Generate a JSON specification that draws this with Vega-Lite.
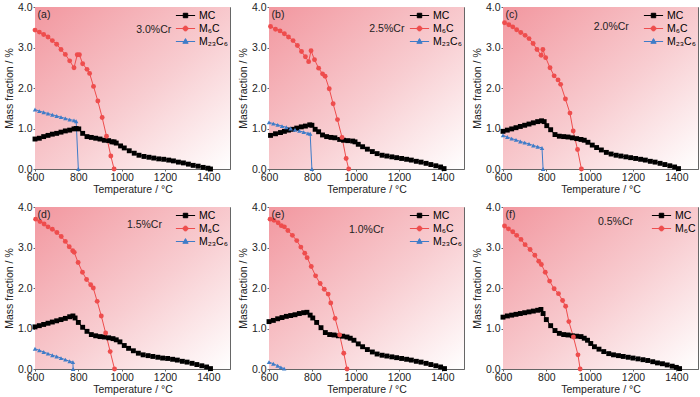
{
  "$schema": "https://vega.github.io/schema/vega-lite/v6.json",
  "padding": {"left": 3, "top": 1, "right": 2, "bottom": 0},
  "background": "white",
  "config": {
    "font": "Liberation Sans",
    "view": {"stroke": "#666666", "strokeWidth": 1},
    "axis": {"labelFontSize": 10.5, "titleFontSize": 10.5, "titleFontWeight": "normal", "labelColor": "#222", "titleColor": "#222", "domainColor": "#666", "tickColor": "#666", "tickSize": 2, "labelPadding": 1, "grid": false, "labelFlush": false},
    "axisY": {"titlePadding": 3},
    "axisX": {"titlePadding": 2},
    "legend": {"orient": "top-right", "offset": 1, "labelFontSize": 10.5, "symbolSize": 144, "rowPadding": 1, "labelOffset": 7, "padding": 1, "symbolStrokeWidth": 1}
  },
  "datasets": {
    "d": [
      {"p":"a","s":"M₆C","T":600,"v":3.43},{"p":"a","s":"M₆C","T":620,"v":3.38},{"p":"a","s":"M₆C","T":640,"v":3.32},{"p":"a","s":"M₆C","T":660,"v":3.26},{"p":"a","s":"M₆C","T":680,"v":3.17},{"p":"a","s":"M₆C","T":700,"v":3.08},{"p":"a","s":"M₆C","T":720,"v":2.95},{"p":"a","s":"M₆C","T":740,"v":2.83},{"p":"a","s":"M₆C","T":760,"v":2.67},{"p":"a","s":"M₆C","T":780,"v":2.50},{"p":"a","s":"M₆C","T":795,"v":2.82},{"p":"a","s":"M₆C","T":805,"v":2.82},{"p":"a","s":"M₆C","T":820,"v":2.60},{"p":"a","s":"M₆C","T":840,"v":2.46},{"p":"a","s":"M₆C","T":852,"v":2.36},{"p":"a","s":"M₆C","T":870,"v":2.04},{"p":"a","s":"M₆C","T":890,"v":1.68},{"p":"a","s":"M₆C","T":910,"v":1.27},{"p":"a","s":"M₆C","T":930,"v":0.81},{"p":"a","s":"M₆C","T":950,"v":0.32},{"p":"a","s":"M₆C","T":965,"v":0.0},
      {"p":"a","s":"MC","T":600,"v":0.74},{"p":"a","s":"MC","T":620,"v":0.76},{"p":"a","s":"MC","T":640,"v":0.80},{"p":"a","s":"MC","T":660,"v":0.83},{"p":"a","s":"MC","T":680,"v":0.86},{"p":"a","s":"MC","T":700,"v":0.88},{"p":"a","s":"MC","T":720,"v":0.91},{"p":"a","s":"MC","T":740,"v":0.94},{"p":"a","s":"MC","T":760,"v":0.96},{"p":"a","s":"MC","T":780,"v":0.99},{"p":"a","s":"MC","T":790,"v":1.00},{"p":"a","s":"MC","T":802,"v":0.99},{"p":"a","s":"MC","T":820,"v":0.88},{"p":"a","s":"MC","T":840,"v":0.80},{"p":"a","s":"MC","T":860,"v":0.78},{"p":"a","s":"MC","T":880,"v":0.76},{"p":"a","s":"MC","T":900,"v":0.74},{"p":"a","s":"MC","T":920,"v":0.71},{"p":"a","s":"MC","T":940,"v":0.70},{"p":"a","s":"MC","T":955,"v":0.67},{"p":"a","s":"MC","T":965,"v":0.67},{"p":"a","s":"MC","T":975,"v":0.64},{"p":"a","s":"MC","T":995,"v":0.57},{"p":"a","s":"MC","T":1012,"v":0.52},{"p":"a","s":"MC","T":1035,"v":0.45},{"p":"a","s":"MC","T":1058,"v":0.39},{"p":"a","s":"MC","T":1080,"v":0.34},{"p":"a","s":"MC","T":1103,"v":0.31},{"p":"a","s":"MC","T":1126,"v":0.29},{"p":"a","s":"MC","T":1148,"v":0.27},{"p":"a","s":"MC","T":1171,"v":0.25},{"p":"a","s":"MC","T":1194,"v":0.24},{"p":"a","s":"MC","T":1217,"v":0.22},{"p":"a","s":"MC","T":1239,"v":0.20},{"p":"a","s":"MC","T":1262,"v":0.17},{"p":"a","s":"MC","T":1285,"v":0.15},{"p":"a","s":"MC","T":1308,"v":0.12},{"p":"a","s":"MC","T":1330,"v":0.09},{"p":"a","s":"MC","T":1353,"v":0.07},{"p":"a","s":"MC","T":1376,"v":0.04},{"p":"a","s":"MC","T":1398,"v":0.02},{"p":"a","s":"MC","T":1410,"v":0.0},
      {"p":"a","s":"M₂₃C₆","T":600,"v":1.47},{"p":"a","s":"M₂₃C₆","T":620,"v":1.43},{"p":"a","s":"M₂₃C₆","T":640,"v":1.40},{"p":"a","s":"M₂₃C₆","T":660,"v":1.37},{"p":"a","s":"M₂₃C₆","T":680,"v":1.34},{"p":"a","s":"M₂₃C₆","T":700,"v":1.31},{"p":"a","s":"M₂₃C₆","T":720,"v":1.28},{"p":"a","s":"M₂₃C₆","T":740,"v":1.25},{"p":"a","s":"M₂₃C₆","T":760,"v":1.22},{"p":"a","s":"M₂₃C₆","T":780,"v":1.20},{"p":"a","s":"M₂₃C₆","T":790,"v":1.18},{"p":"a","s":"M₂₃C₆","T":800,"v":0.0},

      {"p":"b","s":"M₆C","T":607,"v":3.52},{"p":"b","s":"M₆C","T":630,"v":3.45},{"p":"b","s":"M₆C","T":651,"v":3.41},{"p":"b","s":"M₆C","T":671,"v":3.34},{"p":"b","s":"M₆C","T":690,"v":3.26},{"p":"b","s":"M₆C","T":711,"v":3.17},{"p":"b","s":"M₆C","T":731,"v":3.05},{"p":"b","s":"M₆C","T":750,"v":2.90},{"p":"b","s":"M₆C","T":768,"v":2.77},{"p":"b","s":"M₆C","T":783,"v":2.65},{"p":"b","s":"M₆C","T":794,"v":2.92},{"p":"b","s":"M₆C","T":810,"v":2.70},{"p":"b","s":"M₆C","T":829,"v":2.49},{"p":"b","s":"M₆C","T":847,"v":2.35},{"p":"b","s":"M₆C","T":859,"v":2.29},{"p":"b","s":"M₆C","T":878,"v":1.98},{"p":"b","s":"M₆C","T":896,"v":1.61},{"p":"b","s":"M₆C","T":916,"v":1.22},{"p":"b","s":"M₆C","T":937,"v":0.78},{"p":"b","s":"M₆C","T":956,"v":0.26},{"p":"b","s":"M₆C","T":968,"v":0.0},
      {"p":"b","s":"MC","T":607,"v":0.83},{"p":"b","s":"MC","T":630,"v":0.87},{"p":"b","s":"MC","T":653,"v":0.90},{"p":"b","s":"MC","T":671,"v":0.93},{"p":"b","s":"MC","T":690,"v":0.96},{"p":"b","s":"MC","T":708,"v":0.98},{"p":"b","s":"MC","T":728,"v":1.01},{"p":"b","s":"MC","T":749,"v":1.04},{"p":"b","s":"MC","T":768,"v":1.06},{"p":"b","s":"MC","T":788,"v":1.09},{"p":"b","s":"MC","T":798,"v":1.08},{"p":"b","s":"MC","T":813,"v":0.98},{"p":"b","s":"MC","T":829,"v":0.92},{"p":"b","s":"MC","T":847,"v":0.84},{"p":"b","s":"MC","T":866,"v":0.80},{"p":"b","s":"MC","T":886,"v":0.78},{"p":"b","s":"MC","T":904,"v":0.77},{"p":"b","s":"MC","T":926,"v":0.73},{"p":"b","s":"MC","T":944,"v":0.71},{"p":"b","s":"MC","T":964,"v":0.70},{"p":"b","s":"MC","T":986,"v":0.69},{"p":"b","s":"MC","T":997,"v":0.67},{"p":"b","s":"MC","T":1012,"v":0.61},{"p":"b","s":"MC","T":1032,"v":0.55},{"p":"b","s":"MC","T":1054,"v":0.49},{"p":"b","s":"MC","T":1077,"v":0.43},{"p":"b","s":"MC","T":1099,"v":0.38},{"p":"b","s":"MC","T":1122,"v":0.34},{"p":"b","s":"MC","T":1144,"v":0.32},{"p":"b","s":"MC","T":1167,"v":0.30},{"p":"b","s":"MC","T":1189,"v":0.28},{"p":"b","s":"MC","T":1212,"v":0.26},{"p":"b","s":"MC","T":1235,"v":0.24},{"p":"b","s":"MC","T":1257,"v":0.22},{"p":"b","s":"MC","T":1280,"v":0.19},{"p":"b","s":"MC","T":1302,"v":0.17},{"p":"b","s":"MC","T":1325,"v":0.14},{"p":"b","s":"MC","T":1347,"v":0.11},{"p":"b","s":"MC","T":1370,"v":0.08},{"p":"b","s":"MC","T":1392,"v":0.05},{"p":"b","s":"MC","T":1408,"v":0.01},
      {"p":"b","s":"M₂₃C₆","T":600,"v":1.15},{"p":"b","s":"M₂₃C₆","T":620,"v":1.12},{"p":"b","s":"M₂₃C₆","T":640,"v":1.09},{"p":"b","s":"M₂₃C₆","T":660,"v":1.06},{"p":"b","s":"M₂₃C₆","T":680,"v":1.03},{"p":"b","s":"M₂₃C₆","T":700,"v":1.00},{"p":"b","s":"M₂₃C₆","T":720,"v":0.97},{"p":"b","s":"M₂₃C₆","T":740,"v":0.94},{"p":"b","s":"M₂₃C₆","T":760,"v":0.91},{"p":"b","s":"M₂₃C₆","T":780,"v":0.88},{"p":"b","s":"M₂₃C₆","T":790,"v":0.87},{"p":"b","s":"M₂₃C₆","T":798,"v":0.0},

      {"p":"c","s":"M₆C","T":607,"v":3.61},{"p":"c","s":"M₆C","T":627,"v":3.56},{"p":"c","s":"M₆C","T":645,"v":3.51},{"p":"c","s":"M₆C","T":663,"v":3.44},{"p":"c","s":"M₆C","T":682,"v":3.37},{"p":"c","s":"M₆C","T":702,"v":3.30},{"p":"c","s":"M₆C","T":720,"v":3.22},{"p":"c","s":"M₆C","T":739,"v":3.10},{"p":"c","s":"M₆C","T":757,"v":2.95},{"p":"c","s":"M₆C","T":776,"v":2.81},{"p":"c","s":"M₆C","T":784,"v":2.95},{"p":"c","s":"M₆C","T":797,"v":2.75},{"p":"c","s":"M₆C","T":817,"v":2.50},{"p":"c","s":"M₆C","T":836,"v":2.30},{"p":"c","s":"M₆C","T":854,"v":2.20},{"p":"c","s":"M₆C","T":866,"v":2.09},{"p":"c","s":"M₆C","T":888,"v":1.73},{"p":"c","s":"M₆C","T":909,"v":1.38},{"p":"c","s":"M₆C","T":924,"v":0.94},{"p":"c","s":"M₆C","T":944,"v":0.48},{"p":"c","s":"M₆C","T":962,"v":0.0},
      {"p":"c","s":"MC","T":600,"v":0.93},{"p":"c","s":"MC","T":620,"v":0.96},{"p":"c","s":"MC","T":640,"v":0.99},{"p":"c","s":"MC","T":660,"v":1.02},{"p":"c","s":"MC","T":680,"v":1.05},{"p":"c","s":"MC","T":700,"v":1.08},{"p":"c","s":"MC","T":720,"v":1.11},{"p":"c","s":"MC","T":740,"v":1.14},{"p":"c","s":"MC","T":760,"v":1.17},{"p":"c","s":"MC","T":778,"v":1.19},{"p":"c","s":"MC","T":790,"v":1.17},{"p":"c","s":"MC","T":802,"v":1.07},{"p":"c","s":"MC","T":820,"v":0.97},{"p":"c","s":"MC","T":840,"v":0.85},{"p":"c","s":"MC","T":860,"v":0.81},{"p":"c","s":"MC","T":880,"v":0.80},{"p":"c","s":"MC","T":900,"v":0.79},{"p":"c","s":"MC","T":920,"v":0.77},{"p":"c","s":"MC","T":940,"v":0.75},{"p":"c","s":"MC","T":960,"v":0.73},{"p":"c","s":"MC","T":975,"v":0.71},{"p":"c","s":"MC","T":992,"v":0.66},{"p":"c","s":"MC","T":1012,"v":0.59},{"p":"c","s":"MC","T":1032,"v":0.53},{"p":"c","s":"MC","T":1054,"v":0.47},{"p":"c","s":"MC","T":1077,"v":0.41},{"p":"c","s":"MC","T":1099,"v":0.37},{"p":"c","s":"MC","T":1122,"v":0.34},{"p":"c","s":"MC","T":1144,"v":0.32},{"p":"c","s":"MC","T":1167,"v":0.30},{"p":"c","s":"MC","T":1189,"v":0.28},{"p":"c","s":"MC","T":1212,"v":0.26},{"p":"c","s":"MC","T":1235,"v":0.24},{"p":"c","s":"MC","T":1257,"v":0.22},{"p":"c","s":"MC","T":1280,"v":0.19},{"p":"c","s":"MC","T":1302,"v":0.17},{"p":"c","s":"MC","T":1325,"v":0.14},{"p":"c","s":"MC","T":1347,"v":0.11},{"p":"c","s":"MC","T":1370,"v":0.08},{"p":"c","s":"MC","T":1392,"v":0.05},{"p":"c","s":"MC","T":1410,"v":0.01},
      {"p":"c","s":"M₂₃C₆","T":600,"v":0.83},{"p":"c","s":"M₂₃C₆","T":620,"v":0.79},{"p":"c","s":"M₂₃C₆","T":640,"v":0.75},{"p":"c","s":"M₂₃C₆","T":660,"v":0.72},{"p":"c","s":"M₂₃C₆","T":680,"v":0.68},{"p":"c","s":"M₂₃C₆","T":700,"v":0.65},{"p":"c","s":"M₂₃C₆","T":720,"v":0.62},{"p":"c","s":"M₂₃C₆","T":740,"v":0.58},{"p":"c","s":"M₂₃C₆","T":760,"v":0.55},{"p":"c","s":"M₂₃C₆","T":780,"v":0.52},{"p":"c","s":"M₂₃C₆","T":785,"v":0.0},

      {"p":"d","s":"M₆C","T":603,"v":3.70},{"p":"d","s":"M₆C","T":623,"v":3.64},{"p":"d","s":"M₆C","T":642,"v":3.58},{"p":"d","s":"M₆C","T":660,"v":3.51},{"p":"d","s":"M₆C","T":680,"v":3.45},{"p":"d","s":"M₆C","T":701,"v":3.37},{"p":"d","s":"M₆C","T":721,"v":3.27},{"p":"d","s":"M₆C","T":740,"v":3.15},{"p":"d","s":"M₆C","T":758,"v":3.02},{"p":"d","s":"M₆C","T":774,"v":2.92},{"p":"d","s":"M₆C","T":781,"v":2.88},{"p":"d","s":"M₆C","T":799,"v":2.63},{"p":"d","s":"M₆C","T":819,"v":2.39},{"p":"d","s":"M₆C","T":838,"v":2.21},{"p":"d","s":"M₆C","T":857,"v":2.08},{"p":"d","s":"M₆C","T":869,"v":2.00},{"p":"d","s":"M₆C","T":887,"v":1.67},{"p":"d","s":"M₆C","T":906,"v":1.31},{"p":"d","s":"M₆C","T":926,"v":0.89},{"p":"d","s":"M₆C","T":947,"v":0.43},{"p":"d","s":"M₆C","T":967,"v":0.0},
      {"p":"d","s":"MC","T":600,"v":1.04},{"p":"d","s":"MC","T":620,"v":1.07},{"p":"d","s":"MC","T":640,"v":1.10},{"p":"d","s":"MC","T":660,"v":1.13},{"p":"d","s":"MC","T":680,"v":1.16},{"p":"d","s":"MC","T":700,"v":1.19},{"p":"d","s":"MC","T":720,"v":1.22},{"p":"d","s":"MC","T":740,"v":1.25},{"p":"d","s":"MC","T":760,"v":1.29},{"p":"d","s":"MC","T":775,"v":1.31},{"p":"d","s":"MC","T":785,"v":1.26},{"p":"d","s":"MC","T":800,"v":1.15},{"p":"d","s":"MC","T":820,"v":1.03},{"p":"d","s":"MC","T":840,"v":0.93},{"p":"d","s":"MC","T":860,"v":0.85},{"p":"d","s":"MC","T":880,"v":0.82},{"p":"d","s":"MC","T":900,"v":0.80},{"p":"d","s":"MC","T":920,"v":0.79},{"p":"d","s":"MC","T":940,"v":0.77},{"p":"d","s":"MC","T":960,"v":0.75},{"p":"d","s":"MC","T":975,"v":0.72},{"p":"d","s":"MC","T":992,"v":0.67},{"p":"d","s":"MC","T":1012,"v":0.58},{"p":"d","s":"MC","T":1032,"v":0.51},{"p":"d","s":"MC","T":1054,"v":0.45},{"p":"d","s":"MC","T":1077,"v":0.39},{"p":"d","s":"MC","T":1099,"v":0.35},{"p":"d","s":"MC","T":1122,"v":0.33},{"p":"d","s":"MC","T":1144,"v":0.31},{"p":"d","s":"MC","T":1167,"v":0.29},{"p":"d","s":"MC","T":1189,"v":0.27},{"p":"d","s":"MC","T":1212,"v":0.26},{"p":"d","s":"MC","T":1235,"v":0.24},{"p":"d","s":"MC","T":1257,"v":0.22},{"p":"d","s":"MC","T":1280,"v":0.19},{"p":"d","s":"MC","T":1302,"v":0.17},{"p":"d","s":"MC","T":1325,"v":0.14},{"p":"d","s":"MC","T":1347,"v":0.11},{"p":"d","s":"MC","T":1370,"v":0.08},{"p":"d","s":"MC","T":1392,"v":0.05},{"p":"d","s":"MC","T":1410,"v":0.01},
      {"p":"d","s":"M₂₃C₆","T":600,"v":0.50},{"p":"d","s":"M₂₃C₆","T":620,"v":0.46},{"p":"d","s":"M₂₃C₆","T":640,"v":0.42},{"p":"d","s":"M₂₃C₆","T":660,"v":0.38},{"p":"d","s":"M₂₃C₆","T":680,"v":0.34},{"p":"d","s":"M₂₃C₆","T":700,"v":0.31},{"p":"d","s":"M₂₃C₆","T":720,"v":0.27},{"p":"d","s":"M₂₃C₆","T":740,"v":0.23},{"p":"d","s":"M₂₃C₆","T":760,"v":0.19},{"p":"d","s":"M₂₃C₆","T":775,"v":0.17},{"p":"d","s":"M₂₃C₆","T":776,"v":0.0},

      {"p":"e","s":"M₆C","T":605,"v":3.70},{"p":"e","s":"M₆C","T":623,"v":3.67},{"p":"e","s":"M₆C","T":642,"v":3.61},{"p":"e","s":"M₆C","T":657,"v":3.54},{"p":"e","s":"M₆C","T":671,"v":3.51},{"p":"e","s":"M₆C","T":687,"v":3.42},{"p":"e","s":"M₆C","T":708,"v":3.30},{"p":"e","s":"M₆C","T":728,"v":3.17},{"p":"e","s":"M₆C","T":747,"v":3.01},{"p":"e","s":"M₆C","T":765,"v":2.86},{"p":"e","s":"M₆C","T":776,"v":2.75},{"p":"e","s":"M₆C","T":795,"v":2.53},{"p":"e","s":"M₆C","T":815,"v":2.30},{"p":"e","s":"M₆C","T":836,"v":2.11},{"p":"e","s":"M₆C","T":855,"v":1.97},{"p":"e","s":"M₆C","T":873,"v":1.85},{"p":"e","s":"M₆C","T":885,"v":1.63},{"p":"e","s":"M₆C","T":905,"v":1.25},{"p":"e","s":"M₆C","T":926,"v":0.84},{"p":"e","s":"M₆C","T":945,"v":0.39},{"p":"e","s":"M₆C","T":960,"v":0.0},
      {"p":"e","s":"MC","T":600,"v":1.17},{"p":"e","s":"MC","T":620,"v":1.20},{"p":"e","s":"MC","T":640,"v":1.24},{"p":"e","s":"MC","T":660,"v":1.27},{"p":"e","s":"MC","T":680,"v":1.30},{"p":"e","s":"MC","T":700,"v":1.32},{"p":"e","s":"MC","T":720,"v":1.34},{"p":"e","s":"MC","T":740,"v":1.37},{"p":"e","s":"MC","T":760,"v":1.39},{"p":"e","s":"MC","T":775,"v":1.40},{"p":"e","s":"MC","T":790,"v":1.33},{"p":"e","s":"MC","T":802,"v":1.26},{"p":"e","s":"MC","T":820,"v":1.15},{"p":"e","s":"MC","T":840,"v":1.02},{"p":"e","s":"MC","T":860,"v":0.90},{"p":"e","s":"MC","T":880,"v":0.85},{"p":"e","s":"MC","T":900,"v":0.84},{"p":"e","s":"MC","T":920,"v":0.82},{"p":"e","s":"MC","T":940,"v":0.81},{"p":"e","s":"MC","T":960,"v":0.79},{"p":"e","s":"MC","T":975,"v":0.76},{"p":"e","s":"MC","T":992,"v":0.71},{"p":"e","s":"MC","T":1012,"v":0.62},{"p":"e","s":"MC","T":1032,"v":0.55},{"p":"e","s":"MC","T":1054,"v":0.48},{"p":"e","s":"MC","T":1077,"v":0.42},{"p":"e","s":"MC","T":1099,"v":0.37},{"p":"e","s":"MC","T":1122,"v":0.34},{"p":"e","s":"MC","T":1144,"v":0.32},{"p":"e","s":"MC","T":1167,"v":0.30},{"p":"e","s":"MC","T":1189,"v":0.28},{"p":"e","s":"MC","T":1212,"v":0.26},{"p":"e","s":"MC","T":1235,"v":0.24},{"p":"e","s":"MC","T":1257,"v":0.22},{"p":"e","s":"MC","T":1280,"v":0.19},{"p":"e","s":"MC","T":1302,"v":0.17},{"p":"e","s":"MC","T":1325,"v":0.14},{"p":"e","s":"MC","T":1347,"v":0.11},{"p":"e","s":"MC","T":1370,"v":0.08},{"p":"e","s":"MC","T":1392,"v":0.05},{"p":"e","s":"MC","T":1410,"v":0.01},
      {"p":"e","s":"M₂₃C₆","T":600,"v":0.17},{"p":"e","s":"M₂₃C₆","T":620,"v":0.13},{"p":"e","s":"M₂₃C₆","T":640,"v":0.08},{"p":"e","s":"M₂₃C₆","T":655,"v":0.04},{"p":"e","s":"M₂₃C₆","T":670,"v":0.01},

      {"p":"f","s":"M₆C","T":607,"v":3.53},{"p":"f","s":"M₆C","T":625,"v":3.46},{"p":"f","s":"M₆C","T":645,"v":3.39},{"p":"f","s":"M₆C","T":663,"v":3.30},{"p":"f","s":"M₆C","T":683,"v":3.20},{"p":"f","s":"M₆C","T":702,"v":3.07},{"p":"f","s":"M₆C","T":725,"v":2.95},{"p":"f","s":"M₆C","T":747,"v":2.81},{"p":"f","s":"M₆C","T":765,"v":2.66},{"p":"f","s":"M₆C","T":777,"v":2.58},{"p":"f","s":"M₆C","T":795,"v":2.39},{"p":"f","s":"M₆C","T":815,"v":2.17},{"p":"f","s":"M₆C","T":836,"v":1.98},{"p":"f","s":"M₆C","T":856,"v":1.86},{"p":"f","s":"M₆C","T":875,"v":1.69},{"p":"f","s":"M₆C","T":889,"v":1.55},{"p":"f","s":"M₆C","T":904,"v":1.17},{"p":"f","s":"M₆C","T":925,"v":0.79},{"p":"f","s":"M₆C","T":946,"v":0.35},{"p":"f","s":"M₆C","T":956,"v":0.0},
      {"p":"f","s":"MC","T":600,"v":1.28},{"p":"f","s":"MC","T":620,"v":1.31},{"p":"f","s":"MC","T":640,"v":1.33},{"p":"f","s":"MC","T":660,"v":1.35},{"p":"f","s":"MC","T":680,"v":1.37},{"p":"f","s":"MC","T":700,"v":1.39},{"p":"f","s":"MC","T":720,"v":1.41},{"p":"f","s":"MC","T":740,"v":1.43},{"p":"f","s":"MC","T":760,"v":1.45},{"p":"f","s":"MC","T":775,"v":1.47},{"p":"f","s":"MC","T":785,"v":1.37},{"p":"f","s":"MC","T":800,"v":1.22},{"p":"f","s":"MC","T":820,"v":1.07},{"p":"f","s":"MC","T":840,"v":0.95},{"p":"f","s":"MC","T":860,"v":0.88},{"p":"f","s":"MC","T":880,"v":0.85},{"p":"f","s":"MC","T":900,"v":0.84},{"p":"f","s":"MC","T":920,"v":0.82},{"p":"f","s":"MC","T":940,"v":0.81},{"p":"f","s":"MC","T":960,"v":0.80},{"p":"f","s":"MC","T":975,"v":0.76},{"p":"f","s":"MC","T":990,"v":0.71},{"p":"f","s":"MC","T":1005,"v":0.63},{"p":"f","s":"MC","T":1022,"v":0.55},{"p":"f","s":"MC","T":1043,"v":0.49},{"p":"f","s":"MC","T":1065,"v":0.43},{"p":"f","s":"MC","T":1088,"v":0.38},{"p":"f","s":"MC","T":1110,"v":0.35},{"p":"f","s":"MC","T":1133,"v":0.33},{"p":"f","s":"MC","T":1155,"v":0.31},{"p":"f","s":"MC","T":1178,"v":0.29},{"p":"f","s":"MC","T":1200,"v":0.27},{"p":"f","s":"MC","T":1223,"v":0.25},{"p":"f","s":"MC","T":1246,"v":0.23},{"p":"f","s":"MC","T":1268,"v":0.21},{"p":"f","s":"MC","T":1291,"v":0.18},{"p":"f","s":"MC","T":1313,"v":0.15},{"p":"f","s":"MC","T":1336,"v":0.13},{"p":"f","s":"MC","T":1358,"v":0.10},{"p":"f","s":"MC","T":1381,"v":0.07},{"p":"f","s":"MC","T":1400,"v":0.04},{"p":"f","s":"MC","T":1415,"v":0.01}
    ]
  },
  "spacing": 5,
  "resolve": {"scale": {"color": "independent"}, "legend": {"color": "independent"}},
  "vconcat": [
    {
      "spacing": 6,
      "resolve": {"scale": {"color": "independent"}, "legend": {"color": "independent"}},
      "hconcat": [
        {
          "width": 195, "height": 162,
          "layer": [
            {"data": {"values": [{}]}, "mark": {"type": "rect", "fill": {"gradient": "linear", "x1": 0, "y1": 0, "x2": 1, "y2": 1, "stops": [{"offset": 0, "color": "#f2979f"}, {"offset": 0.55, "color": "#f8cdd1"}, {"offset": 1, "color": "#ffffff"}]}}, "encoding": {"x": {"datum": 600, "type": "quantitative", "scale": {"domain": [600, 1500], "nice": false, "zero": false}, "axis": {"values": [600, 800, 1000, 1200, 1400], "format": "d", "title": "Temperature / °C"}}, "x2": {"datum": 1500}, "y": {"datum": 0, "type": "quantitative", "scale": {"domain": [0, 4], "nice": false, "zero": false}, "axis": {"values": [0, 0.5, 1, 1.5, 2, 2.5, 3, 3.5, 4], "format": ".1f", "title": "Mass fraction / %"}}, "y2": {"datum": 4}}},
            {"data": {"name": "d"}, "transform": [{"filter": "datum.p === 'a'"}], "mark": {"type": "line", "strokeWidth": 1}, "encoding": {"x": {"field": "T", "type": "quantitative"}, "y": {"field": "v", "type": "quantitative"}, "color": {"field": "s", "type": "nominal", "scale": {"domain": ["MC", "M₆C", "M₂₃C₆"], "range": ["#000000", "#ee4d4d", "#3f7cc8"]}, "legend": {"title": null, "encode": {"symbols": {"update": {"shape": {"signal": "datum.value === 'MC' ? 'M-1.6,0H1.6M-0.37,-0.37H0.37V0.37H-0.37Z' : datum.value === 'M₆C' ? 'M-1.6,0H1.6M0.4,0A0.4,0.4,0,1,1,-0.4,0A0.4,0.4,0,1,1,0.4,0Z' : 'M-1.6,0H1.6M0,-0.48L0.44,0.3H-0.44Z'"}, "fill": {"signal": "datum.value === 'MC' ? '#000000' : datum.value === 'M₆C' ? '#ee4d4d' : '#3f7cc8'"}, "strokeWidth": {"value": 1}}}}}}}},
            {"data": {"name": "d"}, "transform": [{"filter": "datum.p === 'a' && datum.s === 'MC'"}], "mark": {"type": "point", "shape": "square", "filled": true, "color": "#000000", "opacity": 1, "size": 24}, "encoding": {"x": {"field": "T", "type": "quantitative"}, "y": {"field": "v", "type": "quantitative"}}},
            {"data": {"name": "d"}, "transform": [{"filter": "datum.p === 'a' && datum.s === 'M₆C'"}], "mark": {"type": "point", "shape": "circle", "filled": true, "color": "#ee4d4d", "opacity": 1, "size": 24}, "encoding": {"x": {"field": "T", "type": "quantitative"}, "y": {"field": "v", "type": "quantitative"}}},
            {"data": {"name": "d"}, "transform": [{"filter": "datum.p === 'a' && datum.s === 'M₂₃C₆'"}], "mark": {"type": "point", "shape": "triangle-up", "filled": true, "color": "#3f7cc8", "opacity": 1, "size": 20}, "encoding": {"x": {"field": "T", "type": "quantitative"}, "y": {"field": "v", "type": "quantitative"}}},
            {"data": {"values": [{}]}, "mark": {"type": "text", "text": "(a)", "align": "left", "baseline": "middle", "fontSize": 10.5, "color": "#222"}, "encoding": {"x": {"datum": 612, "type": "quantitative"}, "y": {"datum": 3.8, "type": "quantitative"}}},
            {"data": {"values": [{}]}, "mark": {"type": "text", "text": "3.0%Cr", "align": "center", "baseline": "middle", "fontSize": 10.5, "color": "#222"}, "encoding": {"x": {"datum": 1148, "type": "quantitative"}, "y": {"datum": 3.43, "type": "quantitative"}}}
          ]
        },
        {
          "width": 195, "height": 162,
          "layer": [
            {"data": {"values": [{}]}, "mark": {"type": "rect", "fill": {"gradient": "linear", "x1": 0, "y1": 0, "x2": 1, "y2": 1, "stops": [{"offset": 0, "color": "#f2979f"}, {"offset": 0.55, "color": "#f8cdd1"}, {"offset": 1, "color": "#ffffff"}]}}, "encoding": {"x": {"datum": 600, "type": "quantitative", "scale": {"domain": [600, 1500], "nice": false, "zero": false}, "axis": {"values": [600, 800, 1000, 1200, 1400], "format": "d", "title": "Temperature / °C"}}, "x2": {"datum": 1500}, "y": {"datum": 0, "type": "quantitative", "scale": {"domain": [0, 4], "nice": false, "zero": false}, "axis": {"values": [0, 0.5, 1, 1.5, 2, 2.5, 3, 3.5, 4], "format": ".1f", "title": "Mass fraction / %"}}, "y2": {"datum": 4}}},
            {"data": {"name": "d"}, "transform": [{"filter": "datum.p === 'b'"}], "mark": {"type": "line", "strokeWidth": 1}, "encoding": {"x": {"field": "T", "type": "quantitative"}, "y": {"field": "v", "type": "quantitative"}, "color": {"field": "s", "type": "nominal", "scale": {"domain": ["MC", "M₆C", "M₂₃C₆"], "range": ["#000000", "#ee4d4d", "#3f7cc8"]}, "legend": {"title": null, "encode": {"symbols": {"update": {"shape": {"signal": "datum.value === 'MC' ? 'M-1.6,0H1.6M-0.37,-0.37H0.37V0.37H-0.37Z' : datum.value === 'M₆C' ? 'M-1.6,0H1.6M0.4,0A0.4,0.4,0,1,1,-0.4,0A0.4,0.4,0,1,1,0.4,0Z' : 'M-1.6,0H1.6M0,-0.48L0.44,0.3H-0.44Z'"}, "fill": {"signal": "datum.value === 'MC' ? '#000000' : datum.value === 'M₆C' ? '#ee4d4d' : '#3f7cc8'"}, "strokeWidth": {"value": 1}}}}}}}},
            {"data": {"name": "d"}, "transform": [{"filter": "datum.p === 'b' && datum.s === 'MC'"}], "mark": {"type": "point", "shape": "square", "filled": true, "color": "#000000", "opacity": 1, "size": 24}, "encoding": {"x": {"field": "T", "type": "quantitative"}, "y": {"field": "v", "type": "quantitative"}}},
            {"data": {"name": "d"}, "transform": [{"filter": "datum.p === 'b' && datum.s === 'M₆C'"}], "mark": {"type": "point", "shape": "circle", "filled": true, "color": "#ee4d4d", "opacity": 1, "size": 24}, "encoding": {"x": {"field": "T", "type": "quantitative"}, "y": {"field": "v", "type": "quantitative"}}},
            {"data": {"name": "d"}, "transform": [{"filter": "datum.p === 'b' && datum.s === 'M₂₃C₆'"}], "mark": {"type": "point", "shape": "triangle-up", "filled": true, "color": "#3f7cc8", "opacity": 1, "size": 20}, "encoding": {"x": {"field": "T", "type": "quantitative"}, "y": {"field": "v", "type": "quantitative"}}},
            {"data": {"values": [{}]}, "mark": {"type": "text", "text": "(b)", "align": "left", "baseline": "middle", "fontSize": 10.5, "color": "#222"}, "encoding": {"x": {"datum": 612, "type": "quantitative"}, "y": {"datum": 3.8, "type": "quantitative"}}},
            {"data": {"values": [{}]}, "mark": {"type": "text", "text": "2.5%Cr", "align": "center", "baseline": "middle", "fontSize": 10.5, "color": "#222"}, "encoding": {"x": {"datum": 1144, "type": "quantitative"}, "y": {"datum": 3.45, "type": "quantitative"}}}
          ]
        },
        {
          "width": 195, "height": 162,
          "layer": [
            {"data": {"values": [{}]}, "mark": {"type": "rect", "fill": {"gradient": "linear", "x1": 0, "y1": 0, "x2": 1, "y2": 1, "stops": [{"offset": 0, "color": "#f2979f"}, {"offset": 0.55, "color": "#f8cdd1"}, {"offset": 1, "color": "#ffffff"}]}}, "encoding": {"x": {"datum": 600, "type": "quantitative", "scale": {"domain": [600, 1500], "nice": false, "zero": false}, "axis": {"values": [600, 800, 1000, 1200, 1400], "format": "d", "title": "Temperature / °C"}}, "x2": {"datum": 1500}, "y": {"datum": 0, "type": "quantitative", "scale": {"domain": [0, 4], "nice": false, "zero": false}, "axis": {"values": [0, 0.5, 1, 1.5, 2, 2.5, 3, 3.5, 4], "format": ".1f", "title": "Mass fraction / %"}}, "y2": {"datum": 4}}},
            {"data": {"name": "d"}, "transform": [{"filter": "datum.p === 'c'"}], "mark": {"type": "line", "strokeWidth": 1}, "encoding": {"x": {"field": "T", "type": "quantitative"}, "y": {"field": "v", "type": "quantitative"}, "color": {"field": "s", "type": "nominal", "scale": {"domain": ["MC", "M₆C", "M₂₃C₆"], "range": ["#000000", "#ee4d4d", "#3f7cc8"]}, "legend": {"title": null, "encode": {"symbols": {"update": {"shape": {"signal": "datum.value === 'MC' ? 'M-1.6,0H1.6M-0.37,-0.37H0.37V0.37H-0.37Z' : datum.value === 'M₆C' ? 'M-1.6,0H1.6M0.4,0A0.4,0.4,0,1,1,-0.4,0A0.4,0.4,0,1,1,0.4,0Z' : 'M-1.6,0H1.6M0,-0.48L0.44,0.3H-0.44Z'"}, "fill": {"signal": "datum.value === 'MC' ? '#000000' : datum.value === 'M₆C' ? '#ee4d4d' : '#3f7cc8'"}, "strokeWidth": {"value": 1}}}}}}}},
            {"data": {"name": "d"}, "transform": [{"filter": "datum.p === 'c' && datum.s === 'MC'"}], "mark": {"type": "point", "shape": "square", "filled": true, "color": "#000000", "opacity": 1, "size": 24}, "encoding": {"x": {"field": "T", "type": "quantitative"}, "y": {"field": "v", "type": "quantitative"}}},
            {"data": {"name": "d"}, "transform": [{"filter": "datum.p === 'c' && datum.s === 'M₆C'"}], "mark": {"type": "point", "shape": "circle", "filled": true, "color": "#ee4d4d", "opacity": 1, "size": 24}, "encoding": {"x": {"field": "T", "type": "quantitative"}, "y": {"field": "v", "type": "quantitative"}}},
            {"data": {"name": "d"}, "transform": [{"filter": "datum.p === 'c' && datum.s === 'M₂₃C₆'"}], "mark": {"type": "point", "shape": "triangle-up", "filled": true, "color": "#3f7cc8", "opacity": 1, "size": 20}, "encoding": {"x": {"field": "T", "type": "quantitative"}, "y": {"field": "v", "type": "quantitative"}}},
            {"data": {"values": [{}]}, "mark": {"type": "text", "text": "(c)", "align": "left", "baseline": "middle", "fontSize": 10.5, "color": "#222"}, "encoding": {"x": {"datum": 612, "type": "quantitative"}, "y": {"datum": 3.8, "type": "quantitative"}}},
            {"data": {"values": [{}]}, "mark": {"type": "text", "text": "2.0%Cr", "align": "center", "baseline": "middle", "fontSize": 10.5, "color": "#222"}, "encoding": {"x": {"datum": 1100, "type": "quantitative"}, "y": {"datum": 3.5, "type": "quantitative"}}}
          ]
        }
      ]
    },
    {
      "spacing": 6,
      "resolve": {"scale": {"color": "independent"}, "legend": {"color": "independent"}},
      "hconcat": [
        {
          "width": 195, "height": 162,
          "layer": [
            {"data": {"values": [{}]}, "mark": {"type": "rect", "fill": {"gradient": "linear", "x1": 0, "y1": 0, "x2": 1, "y2": 1, "stops": [{"offset": 0, "color": "#f2979f"}, {"offset": 0.55, "color": "#f8cdd1"}, {"offset": 1, "color": "#ffffff"}]}}, "encoding": {"x": {"datum": 600, "type": "quantitative", "scale": {"domain": [600, 1500], "nice": false, "zero": false}, "axis": {"values": [600, 800, 1000, 1200, 1400], "format": "d", "title": "Temperature / °C"}}, "x2": {"datum": 1500}, "y": {"datum": 0, "type": "quantitative", "scale": {"domain": [0, 4], "nice": false, "zero": false}, "axis": {"values": [0, 0.5, 1, 1.5, 2, 2.5, 3, 3.5, 4], "format": ".1f", "title": "Mass fraction / %"}}, "y2": {"datum": 4}}},
            {"data": {"name": "d"}, "transform": [{"filter": "datum.p === 'd'"}], "mark": {"type": "line", "strokeWidth": 1}, "encoding": {"x": {"field": "T", "type": "quantitative"}, "y": {"field": "v", "type": "quantitative"}, "color": {"field": "s", "type": "nominal", "scale": {"domain": ["MC", "M₆C", "M₂₃C₆"], "range": ["#000000", "#ee4d4d", "#3f7cc8"]}, "legend": {"title": null, "encode": {"symbols": {"update": {"shape": {"signal": "datum.value === 'MC' ? 'M-1.6,0H1.6M-0.37,-0.37H0.37V0.37H-0.37Z' : datum.value === 'M₆C' ? 'M-1.6,0H1.6M0.4,0A0.4,0.4,0,1,1,-0.4,0A0.4,0.4,0,1,1,0.4,0Z' : 'M-1.6,0H1.6M0,-0.48L0.44,0.3H-0.44Z'"}, "fill": {"signal": "datum.value === 'MC' ? '#000000' : datum.value === 'M₆C' ? '#ee4d4d' : '#3f7cc8'"}, "strokeWidth": {"value": 1}}}}}}}},
            {"data": {"name": "d"}, "transform": [{"filter": "datum.p === 'd' && datum.s === 'MC'"}], "mark": {"type": "point", "shape": "square", "filled": true, "color": "#000000", "opacity": 1, "size": 24}, "encoding": {"x": {"field": "T", "type": "quantitative"}, "y": {"field": "v", "type": "quantitative"}}},
            {"data": {"name": "d"}, "transform": [{"filter": "datum.p === 'd' && datum.s === 'M₆C'"}], "mark": {"type": "point", "shape": "circle", "filled": true, "color": "#ee4d4d", "opacity": 1, "size": 24}, "encoding": {"x": {"field": "T", "type": "quantitative"}, "y": {"field": "v", "type": "quantitative"}}},
            {"data": {"name": "d"}, "transform": [{"filter": "datum.p === 'd' && datum.s === 'M₂₃C₆'"}], "mark": {"type": "point", "shape": "triangle-up", "filled": true, "color": "#3f7cc8", "opacity": 1, "size": 20}, "encoding": {"x": {"field": "T", "type": "quantitative"}, "y": {"field": "v", "type": "quantitative"}}},
            {"data": {"values": [{}]}, "mark": {"type": "text", "text": "(d)", "align": "left", "baseline": "middle", "fontSize": 10.5, "color": "#222"}, "encoding": {"x": {"datum": 612, "type": "quantitative"}, "y": {"datum": 3.8, "type": "quantitative"}}},
            {"data": {"values": [{}]}, "mark": {"type": "text", "text": "1.5%Cr", "align": "center", "baseline": "middle", "fontSize": 10.5, "color": "#222"}, "encoding": {"x": {"datum": 1105, "type": "quantitative"}, "y": {"datum": 3.55, "type": "quantitative"}}}
          ]
        },
        {
          "width": 195, "height": 162,
          "layer": [
            {"data": {"values": [{}]}, "mark": {"type": "rect", "fill": {"gradient": "linear", "x1": 0, "y1": 0, "x2": 1, "y2": 1, "stops": [{"offset": 0, "color": "#f2979f"}, {"offset": 0.55, "color": "#f8cdd1"}, {"offset": 1, "color": "#ffffff"}]}}, "encoding": {"x": {"datum": 600, "type": "quantitative", "scale": {"domain": [600, 1500], "nice": false, "zero": false}, "axis": {"values": [600, 800, 1000, 1200, 1400], "format": "d", "title": "Temperature / °C"}}, "x2": {"datum": 1500}, "y": {"datum": 0, "type": "quantitative", "scale": {"domain": [0, 4], "nice": false, "zero": false}, "axis": {"values": [0, 0.5, 1, 1.5, 2, 2.5, 3, 3.5, 4], "format": ".1f", "title": "Mass fraction / %"}}, "y2": {"datum": 4}}},
            {"data": {"name": "d"}, "transform": [{"filter": "datum.p === 'e'"}], "mark": {"type": "line", "strokeWidth": 1}, "encoding": {"x": {"field": "T", "type": "quantitative"}, "y": {"field": "v", "type": "quantitative"}, "color": {"field": "s", "type": "nominal", "scale": {"domain": ["MC", "M₆C", "M₂₃C₆"], "range": ["#000000", "#ee4d4d", "#3f7cc8"]}, "legend": {"title": null, "encode": {"symbols": {"update": {"shape": {"signal": "datum.value === 'MC' ? 'M-1.6,0H1.6M-0.37,-0.37H0.37V0.37H-0.37Z' : datum.value === 'M₆C' ? 'M-1.6,0H1.6M0.4,0A0.4,0.4,0,1,1,-0.4,0A0.4,0.4,0,1,1,0.4,0Z' : 'M-1.6,0H1.6M0,-0.48L0.44,0.3H-0.44Z'"}, "fill": {"signal": "datum.value === 'MC' ? '#000000' : datum.value === 'M₆C' ? '#ee4d4d' : '#3f7cc8'"}, "strokeWidth": {"value": 1}}}}}}}},
            {"data": {"name": "d"}, "transform": [{"filter": "datum.p === 'e' && datum.s === 'MC'"}], "mark": {"type": "point", "shape": "square", "filled": true, "color": "#000000", "opacity": 1, "size": 24}, "encoding": {"x": {"field": "T", "type": "quantitative"}, "y": {"field": "v", "type": "quantitative"}}},
            {"data": {"name": "d"}, "transform": [{"filter": "datum.p === 'e' && datum.s === 'M₆C'"}], "mark": {"type": "point", "shape": "circle", "filled": true, "color": "#ee4d4d", "opacity": 1, "size": 24}, "encoding": {"x": {"field": "T", "type": "quantitative"}, "y": {"field": "v", "type": "quantitative"}}},
            {"data": {"name": "d"}, "transform": [{"filter": "datum.p === 'e' && datum.s === 'M₂₃C₆'"}], "mark": {"type": "point", "shape": "triangle-up", "filled": true, "color": "#3f7cc8", "opacity": 1, "size": 20}, "encoding": {"x": {"field": "T", "type": "quantitative"}, "y": {"field": "v", "type": "quantitative"}}},
            {"data": {"values": [{}]}, "mark": {"type": "text", "text": "(e)", "align": "left", "baseline": "middle", "fontSize": 10.5, "color": "#222"}, "encoding": {"x": {"datum": 612, "type": "quantitative"}, "y": {"datum": 3.8, "type": "quantitative"}}},
            {"data": {"values": [{}]}, "mark": {"type": "text", "text": "1.0%Cr", "align": "center", "baseline": "middle", "fontSize": 10.5, "color": "#222"}, "encoding": {"x": {"datum": 1050, "type": "quantitative"}, "y": {"datum": 3.43, "type": "quantitative"}}}
          ]
        },
        {
          "width": 195, "height": 162,
          "layer": [
            {"data": {"values": [{}]}, "mark": {"type": "rect", "fill": {"gradient": "linear", "x1": 0, "y1": 0, "x2": 1, "y2": 1, "stops": [{"offset": 0, "color": "#f2979f"}, {"offset": 0.55, "color": "#f8cdd1"}, {"offset": 1, "color": "#ffffff"}]}}, "encoding": {"x": {"datum": 600, "type": "quantitative", "scale": {"domain": [600, 1500], "nice": false, "zero": false}, "axis": {"values": [600, 800, 1000, 1200, 1400], "format": "d", "title": "Temperature / °C"}}, "x2": {"datum": 1500}, "y": {"datum": 0, "type": "quantitative", "scale": {"domain": [0, 4], "nice": false, "zero": false}, "axis": {"values": [0, 0.5, 1, 1.5, 2, 2.5, 3, 3.5, 4], "format": ".1f", "title": "Mass fraction / %"}}, "y2": {"datum": 4}}},
            {"data": {"name": "d"}, "transform": [{"filter": "datum.p === 'f'"}], "mark": {"type": "line", "strokeWidth": 1}, "encoding": {"x": {"field": "T", "type": "quantitative"}, "y": {"field": "v", "type": "quantitative"}, "color": {"field": "s", "type": "nominal", "scale": {"domain": ["MC", "M₆C"], "range": ["#000000", "#ee4d4d"]}, "legend": {"title": null, "encode": {"symbols": {"update": {"shape": {"signal": "datum.value === 'MC' ? 'M-1.6,0H1.6M-0.37,-0.37H0.37V0.37H-0.37Z' : 'M-1.6,0H1.6M0.4,0A0.4,0.4,0,1,1,-0.4,0A0.4,0.4,0,1,1,0.4,0Z'"}, "fill": {"signal": "datum.value === 'MC' ? '#000000' : '#ee4d4d'"}, "strokeWidth": {"value": 1}}}}}}}},
            {"data": {"name": "d"}, "transform": [{"filter": "datum.p === 'f' && datum.s === 'MC'"}], "mark": {"type": "point", "shape": "square", "filled": true, "color": "#000000", "opacity": 1, "size": 24}, "encoding": {"x": {"field": "T", "type": "quantitative"}, "y": {"field": "v", "type": "quantitative"}}},
            {"data": {"name": "d"}, "transform": [{"filter": "datum.p === 'f' && datum.s === 'M₆C'"}], "mark": {"type": "point", "shape": "circle", "filled": true, "color": "#ee4d4d", "opacity": 1, "size": 24}, "encoding": {"x": {"field": "T", "type": "quantitative"}, "y": {"field": "v", "type": "quantitative"}}},
            {"data": {"values": [{}]}, "mark": {"type": "text", "text": "(f)", "align": "left", "baseline": "middle", "fontSize": 10.5, "color": "#222"}, "encoding": {"x": {"datum": 612, "type": "quantitative"}, "y": {"datum": 3.8, "type": "quantitative"}}},
            {"data": {"values": [{}]}, "mark": {"type": "text", "text": "0.5%Cr", "align": "center", "baseline": "middle", "fontSize": 10.5, "color": "#222"}, "encoding": {"x": {"datum": 1119, "type": "quantitative"}, "y": {"datum": 3.63, "type": "quantitative"}}}
          ]
        }
      ]
    }
  ]
}
